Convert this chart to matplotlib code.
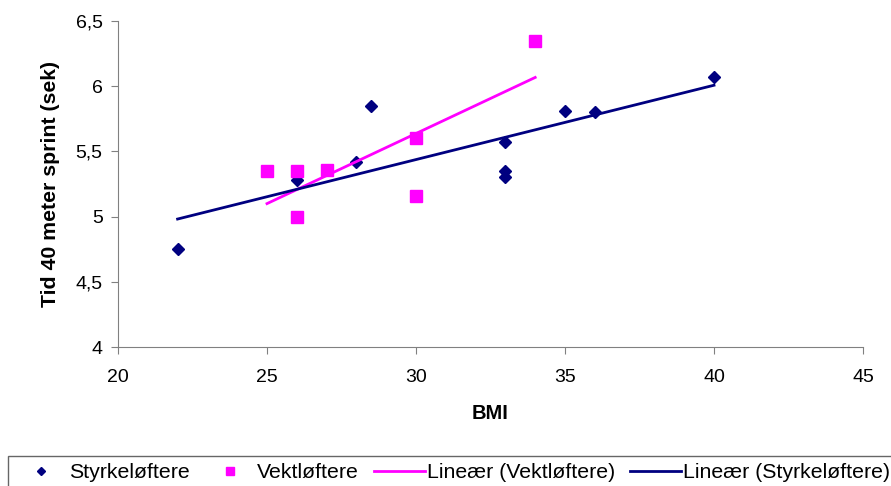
import numpy as np
import matplotlib.pyplot as plt

plt.rcParams['font.family'] = ['Liberation Sans', 'DejaVu Sans']

# Styrkeløftere (BMI, tid)
styrke_bmi = [22, 26, 28, 28.5, 33, 33, 33, 35, 36, 40]
styrke_tid = [4.75, 5.28, 5.42, 5.85, 5.57, 5.35, 5.30, 5.81, 5.80, 6.07]

# Vektløftere (BMI, tid)
vekt_bmi = [25, 26, 26, 27, 30, 30, 34]
vekt_tid = [5.35, 5.35, 5.00, 5.36, 5.60, 5.16, 6.35]

y_ticks = [4, 4.5, 5, 5.5, 6, 6.5]
y_labels = ['4', '4,5', '5', '5,5', '6', '6,5']
x_ticks = [20, 25, 30, 35, 40, 45]

navy = '#000080'
pink = '#ff00ff'

fig = plt.figure(figsize=(8.91, 4.86), dpi=100)
ax = fig.add_axes([118 / 891, 139 / 486, 745 / 891, 326 / 486])

ax.plot(styrke_bmi, styrke_tid, 'D', color=navy, ms=6.5, ls='none', label='Styrkeløftere')
ax.plot(vekt_bmi, vekt_tid, 's', color=pink, ms=8, ls='none', label='Vektløftere')

# lineære trendlinjer
kv = np.polyfit(vekt_bmi, vekt_tid, 1)
xv = np.array([min(vekt_bmi), max(vekt_bmi)])
ax.plot(xv, np.polyval(kv, xv), color=pink, lw=2, label='Lineær (Vektløftere)')

ks = np.polyfit(styrke_bmi, styrke_tid, 1)
xs = np.array([min(styrke_bmi), max(styrke_bmi)])
ax.plot(xs, np.polyval(ks, xs), color=navy, lw=2, label='Lineær (Styrkeløftere)')

ax.set_xlim(20, 45)
ax.set_ylim(4, 6.5)
ax.set_xticks(x_ticks)
ax.set_yticks(y_ticks)
ax.set_yticklabels(y_labels)
ax.tick_params(direction='out', length=5, color='#808080', labelsize=14)
ax.tick_params(axis='x', pad=11)
ax.tick_params(axis='y', pad=6)

for s in ['top', 'right']:
    ax.spines[s].set_visible(False)
for s in ['left', 'bottom']:
    ax.spines[s].set_color('#808080')

ax.set_xlabel('BMI', fontsize=14.5, fontweight='bold', labelpad=13)
ax.set_ylabel('Tid 40 meter sprint (sek)', fontsize=15.3, fontweight='bold', labelpad=11)

leg = fig.legend(ncol=4, loc='upper left', bbox_to_anchor=(8 / 891, 1 - 456 / 486),
                 fontsize=15.3, frameon=True, fancybox=False, edgecolor='#404040',
                 handlelength=2.4, handletextpad=0.1, columnspacing=0.7,
                 borderpad=0.35, markerscale=0.7, borderaxespad=0)
leg.get_frame().set_linewidth(1.0)

fig.savefig('out.png', dpi=100)
